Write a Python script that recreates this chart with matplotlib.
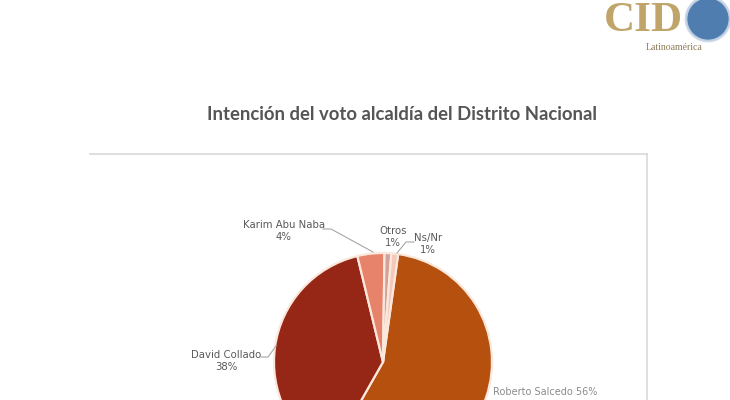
import matplotlib.pyplot as plt
from matplotlib.patches import Circle

# data (bottom of the pie is cropped in the original)
candidates = ["Roberto Salcedo", "David Collado", "Karim Abu Naba", "Otros", "Ns/Nr"]
shares = [56, 38, 4, 1, 1]
colors = ["#B5500F", "#962616", "#E8836B", "#D4A19A", "#F4C7B8"]
title = "Intención del voto alcaldía del Distrito Nacional"

W, H = 730, 400
fig = plt.figure(figsize=(W / 100, H / 100), dpi=100)
ax = fig.add_axes([0, 0, 1, 1])


def py(y):
    # pixel row (from top) -> data y
    return H - y


ax.pie(shares, colors=colors, startangle=82, counterclock=False,
       center=(383, py(362)), radius=109,
       wedgeprops=dict(edgecolor="#FBE8DC", linewidth=1.6))
ax.set_xlim(0, W)
ax.set_ylim(0, H)
ax.set_aspect("equal")
ax.axis("off")

# chart frame (only top and right edges visible)
ax.plot([90, 647], [py(154), py(154)], color="#D9D9D9", lw=1.2)
ax.plot([647, 647], [py(154), py(402)], color="#D9D9D9", lw=1.2)

ax.text(402, py(114), title, ha="center", va="center", fontsize=13.3,
        fontweight="bold", color="#555555", family="Lato")

lab_kw = dict(ha="center", va="center", fontsize=7.3, color="#595959",
              linespacing=1.35)
labels = [f"{c}\n{s}%" for c, s in zip(candidates, shares)]
ax.text(284, py(231), labels[2], **lab_kw)
ax.text(393, py(237), labels[3], **lab_kw)
ax.text(428, py(244), labels[4], **lab_kw)
ax.text(226, py(361), labels[1], **lab_kw)
# bottom label is mostly cropped in the reference; keep it on one line at the edge
ax.text(545, py(392), f"{candidates[0]} {shares[0]}%", ha="center", va="center",
        fontsize=7, color="#8C8C8C")

# leader lines
lc = dict(color="#A6A6A6", lw=0.8)
ax.plot([323, 331, 373], [py(229), py(229), py(252)], **lc)
ax.plot([414, 406, 397], [py(242), py(242), py(253)], **lc)
ax.plot([261, 268, 276], [py(357), py(357), py(346)], **lc)

# CID logo
ax.text(643, py(21), "CID", ha="center", va="center", fontsize=31,
        fontweight="bold", family="Liberation Serif", color="#BFA56A")
ax.text(674, py(47), "Latinoamérica", ha="center", va="center", fontsize=7,
        family="Liberation Serif", color="#8C7A55")
ax.add_patch(Circle((708, py(19)), 22, facecolor="#3D6FA8",
                    edgecolor="#C9D6E6", lw=2, alpha=0.9))

plt.savefig("out.png", dpi=100)
